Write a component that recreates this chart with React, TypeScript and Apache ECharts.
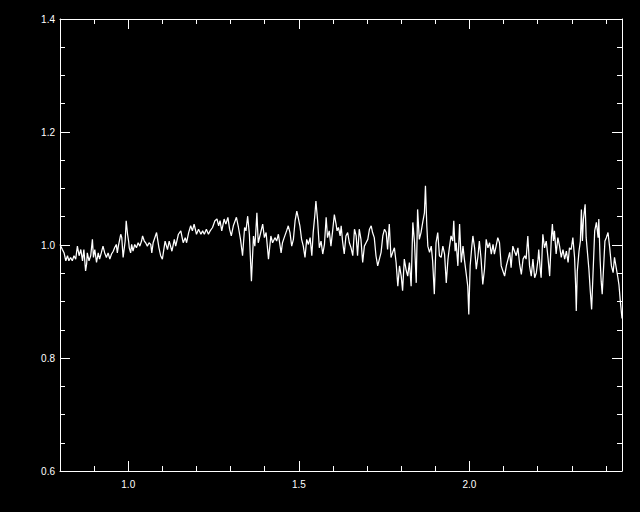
import React, { useEffect, useRef } from "react";
import * as echarts from "echarts";

const wavelength = [
  0.800,0.807,0.812,0.817,0.822,0.826,0.831,0.836,0.841,0.846,0.851,0.856,0.861,0.866,0.870,0.875,0.878,0.880,0.885,0.890,
  0.895,0.898,0.902,0.907,0.912,0.916,0.921,0.926,0.931,0.936,0.941,0.946,0.951,0.956,0.960,0.965,0.968,0.971,0.975,0.978,
  0.981,0.985,0.991,0.994,0.998,1.001,1.003,1.007,1.010,1.014,1.019,1.024,1.029,1.034,1.039,1.042,1.047,1.051,1.056,1.061,1.066,
  1.069,1.073,1.083,1.090,1.095,1.100,1.108,1.115,1.120,1.128,1.135,1.139,1.147,1.154,1.161,1.167,1.171,1.177,1.183,1.188,
  1.193,1.200,1.206,1.213,1.218,1.223,1.229,1.235,1.240,1.247,1.254,1.260,1.265,1.269,1.274,1.281,1.286,1.292,1.297,1.302,
  1.308,1.317,1.323,1.329,1.335,1.341,1.345,1.350,
  1.355,1.361,1.367,1.371,1.374,1.377,1.381,1.387,1.394,1.399,1.404,1.411,1.418,1.423,1.430,1.435,1.440,1.448,1.452,1.457,
  1.464,1.469,1.474,1.479,1.484,1.489,1.494,1.498,1.503,1.508,1.513,1.518,1.523,1.528,1.533,1.538,1.542,1.547,1.550,1.555,
  1.560,1.565,1.570,1.575,1.580,1.584,1.589,1.594,1.599,1.604,1.609,1.612,1.616,1.621,1.624,1.628,
  1.633,1.638,1.643,1.648,1.653,1.658,1.663,1.668,1.672,1.677,1.682,1.687,1.692,1.697,1.702,1.707,1.712,1.716,1.721,1.726,
  1.731,1.736,1.741,1.746,1.751,1.756,1.760,1.765,1.770,1.775,1.780,1.785,1.790,1.795,1.800,1.804,1.809,1.814,1.819,1.824,
  1.829,1.834,1.839,1.844,1.848,1.853,1.858,1.863,1.868,1.871,1.875,1.878,1.883,1.888,1.892,1.897,1.902,1.907,1.912,
  1.917,1.922,1.927,1.932,1.937,1.941,1.946,1.951,1.954,1.958,1.961,1.966,1.971,1.976,1.981,1.985,1.990,1.995,1.998,2.002,
  2.007,2.010,2.015,2.020,2.025,2.029,2.034,2.039,2.044,2.049,2.054,2.059,2.064,2.069,2.073,2.078,2.083,2.088,2.093,2.098,
  2.103,2.108,2.113,2.118,2.122,2.127,2.132,2.137,2.142,2.147,2.152,2.157,2.162,2.166,2.171,2.176,2.181,2.186,
  2.191,2.196,2.201,2.203,2.207,2.210,2.215,2.220,2.225,2.230,2.235,2.240,2.243,2.246,2.249,2.254,2.259,2.264,2.269,2.274,
  2.279,2.284,2.289,2.293,2.298,2.303,2.308,2.311,2.313,2.316,2.321,2.325,2.328,2.331,2.334,2.339,2.342,2.347,2.350,2.354,
  2.358,2.362,2.367,2.372,2.377,2.379,2.383,2.386,2.389,2.393,2.397,2.401,2.406,2.411,2.416,2.421,2.425,2.430,2.435,2.438,
  2.442,2.447,
];

const flux = [
  1.001,0.992,0.986,0.972,0.981,0.972,0.978,0.972,0.981,0.975,0.998,0.981,0.992,0.972,0.992,0.954,0.966,0.986,0.972,0.981,
  1.010,0.978,0.992,0.969,0.986,0.975,0.986,0.998,0.986,0.978,0.986,0.975,0.984,0.989,0.995,1.001,0.986,0.998,1.010,1.019,
  1.013,0.978,1.007,1.043,1.019,1.007,0.995,0.986,1.001,0.989,1.001,0.995,1.004,0.998,1.007,1.016,1.007,1.004,0.998,1.004,1.001,
  0.986,1.004,1.022,0.995,0.981,0.975,1.007,0.992,1.007,0.989,1.010,0.998,1.019,1.025,1.004,1.013,1.004,1.022,1.034,1.025,
  1.037,1.019,1.028,1.019,1.025,1.019,1.028,1.019,1.025,1.031,1.043,1.046,1.034,1.043,1.025,1.046,1.037,1.049,1.028,1.016,
  1.034,1.049,1.031,1.010,0.981,1.031,1.025,1.051,
  1.019,0.936,1.016,0.998,1.025,1.057,1.004,1.019,1.037,1.013,1.022,0.975,1.016,1.004,1.013,1.007,1.019,0.986,1.004,1.013,
  1.025,1.034,1.022,0.998,1.010,1.043,1.060,1.049,1.034,1.010,0.998,0.978,1.010,1.001,1.013,0.981,1.022,1.054,1.078,1.043,
  0.995,1.007,0.984,1.001,1.049,1.013,1.025,0.998,1.025,1.054,1.037,1.025,1.031,1.016,1.034,1.007,
  0.984,1.016,1.022,1.004,0.995,0.981,1.028,1.016,0.981,1.028,1.010,0.969,0.998,1.004,1.010,1.028,1.034,1.022,1.013,0.981,
  0.963,0.975,0.987,1.016,1.028,1.022,0.992,1.037,0.978,0.987,0.995,0.969,0.927,0.963,0.945,0.919,0.975,0.957,0.945,0.969,
  0.927,1.040,1.004,0.933,1.063,1.010,1.022,1.040,1.057,1.105,1.034,0.998,0.987,0.998,0.972,0.913,1.004,1.022,0.981,
  0.978,0.998,0.984,0.933,0.975,0.995,1.016,1.007,1.043,0.989,1.004,0.963,1.037,0.969,0.998,0.975,0.951,0.927,0.877,0.963,
  0.998,1.016,0.995,0.957,0.981,1.007,0.975,0.930,0.957,1.010,0.995,1.004,0.984,1.001,0.984,0.998,1.013,1.004,0.963,0.954,
  0.945,0.963,0.975,0.987,0.960,0.998,0.989,0.981,0.995,0.966,0.948,0.975,0.981,0.975,1.016,0.963,0.945,0.975,
  0.942,0.951,0.975,0.992,0.960,0.942,1.019,0.995,1.007,0.978,0.945,1.013,1.037,1.007,1.025,0.984,1.013,0.998,0.978,0.992,
  0.975,0.989,0.969,0.995,0.992,1.013,0.978,0.930,0.883,0.954,0.989,1.007,1.063,1.007,1.046,1.072,1.013,0.978,0.957,0.919,
  0.886,0.948,1.025,1.040,1.013,1.046,0.972,0.936,0.913,0.960,1.007,1.013,1.022,0.995,0.963,0.951,0.978,0.960,0.942,0.930,
  0.901,0.870,
];

const xMajorTicks = [1.0, 1.5, 2.0];
const xMinorTicks = [0.9, 1.1, 1.2, 1.3, 1.4, 1.6, 1.7, 1.8, 1.9, 2.1, 2.2, 2.3, 2.4];
const yMajorTicks = [0.6, 0.8, 1.0, 1.2, 1.4];
const yMinorTicks = [0.65, 0.7, 0.75, 0.85, 0.9, 0.95, 1.05, 1.1, 1.15, 1.25, 1.3, 1.35];

const X_MIN = 0.8;
const X_MAX = 2.447;
const Y_MIN = 0.6;
const Y_MAX = 1.4;

export default function App() {
  const ref = useRef<HTMLDivElement>(null);

  useEffect(() => {
    if (!ref.current) return;
    const chart = echarts.init(ref.current, undefined, { renderer: "svg" });
    const white = "#ffffff";
    const font = { color: white, fontSize: 10, fontFamily: "Liberation Sans, Arial, sans-serif" };

    const xAx = (gridIndex: number, position: string, ticks: number[], len: number, labels: boolean, line: boolean) => ({
      type: "value",
      gridIndex,
      position,
      min: X_MIN,
      max: X_MAX,
      axisLine: { show: line, onZero: false, lineStyle: { color: white, width: 1 } },
      axisTick: { show: true, inside: true, length: len, customValues: ticks, lineStyle: { color: white, width: 1 } },
      axisLabel: labels
        ? { show: true, customValues: ticks, margin: 8, formatter: (v: number) => v.toFixed(1), ...font }
        : { show: false },
      splitLine: { show: false },
    });
    const yAx = (gridIndex: number, position: string, ticks: number[], len: number, labels: boolean, line: boolean) => ({
      type: "value",
      gridIndex,
      position,
      min: Y_MIN,
      max: Y_MAX,
      axisLine: { show: line, onZero: false, lineStyle: { color: white, width: 1 } },
      axisTick: { show: true, inside: true, length: len, customValues: ticks, lineStyle: { color: white, width: 1 } },
      axisLabel: labels
        ? { show: true, customValues: ticks, margin: 5, formatter: (v: number) => v.toFixed(1), ...font }
        : { show: false },
      splitLine: { show: false },
    });

    const gridRect = { left: 60, right: 18, top: 19, bottom: 41, containLabel: false };

    const data = wavelength.map((w, i) => [w, flux[i]]);

    chart.setOption({
      animation: false,
      backgroundColor: "#000000",
      grid: [gridRect, gridRect],
      xAxis: [
        xAx(0, "bottom", xMajorTicks, 10, true, true),
        xAx(0, "top", xMajorTicks, 10, false, true),
        xAx(1, "bottom", xMinorTicks, 5, false, false),
        xAx(1, "top", xMinorTicks, 5, false, false),
      ],
      yAxis: [
        yAx(0, "left", yMajorTicks, 10, true, true),
        yAx(0, "right", yMajorTicks, 10, false, true),
        yAx(1, "left", yMinorTicks, 5, false, false),
        yAx(1, "right", yMinorTicks, 5, false, false),
      ],
      series: [
        {
          type: "line",
          xAxisIndex: 0,
          yAxisIndex: 0,
          data,
          showSymbol: false,
          symbol: "none",
          clip: true,
          lineStyle: { color: white, width: 1.25 },
          silent: true,
        },
      ],
    });

    return () => chart.dispose();
  }, []);

  return (
    <div
      ref={ref}
      style={{ position: "fixed", left: 0, top: 0, width: 640, height: 512, background: "#000" }}
    />
  );
}
